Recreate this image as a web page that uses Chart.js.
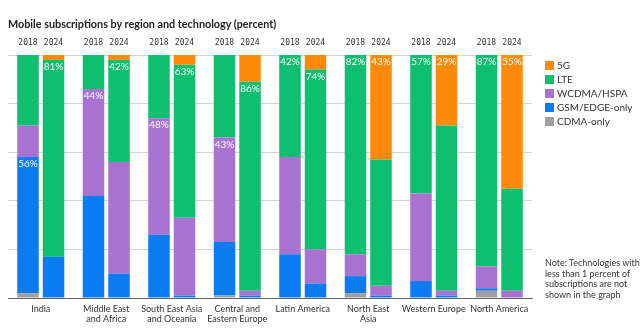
<!DOCTYPE html>
<html>
<head>
<meta charset="utf-8">
<script src="https://cdn.jsdelivr.net/npm/chart.js@4/dist/chart.umd.min.js"></script>
<style>
  body { margin: 0; background: #fff; }
  #wrap { position: relative; width: 640px; height: 332px; font-family: Lato, sans-serif; color: #333; }
  #title { position: absolute; left: 8px; top: 17px; font-size: 10.8px; font-weight: bold; color: #222; white-space: nowrap; }
  #legend { position: absolute; left: 545px; top: 59px; font-size: 10px; }
  #legend div { height: 13.9px; line-height: 13.9px; white-space: nowrap; }
  #legend span { display: inline-block; width: 9px; height: 9px; vertical-align: -1px; margin-right: 3px; }
  #note { position: absolute; left: 545px; top: 258px; font-size: 9px; line-height: 10.7px; white-space: nowrap; }
</style>
</head>
<body>
<div id="wrap">
  <canvas id="chart" width="640" height="332"></canvas>
  <div id="title">Mobile subscriptions by region and technology (percent)</div>
  <div id="legend"></div>
  <div id="note">Note: Technologies with<br>less than 1 percent of<br>subscriptions are not<br>shown in the graph</div>
</div>
<script>
const regions = [
  'India', ['Middle East', 'and Africa'], ['South East Asia', 'and Oceania'],
  ['Central and', 'Eastern Europe'], 'Latin America', ['North East', 'Asia'],
  'Western Europe', 'North America'
];
const years = ['2018', '2024'];

const cdma2018  = [2, 0, 0, 1, 0, 2, 0, 3];
const gsm2018   = [56, 42, 26, 22, 18, 7, 7, 1];
const wcdma2018 = [13, 44, 48, 43, 40, 9, 36, 9];
const lte2018   = [29, 14, 26, 34, 42, 82, 57, 87];
const fiveG2018 = [0, 0, 0, 0, 0, 0, 0, 0];

const cdma2024  = [0, 0, 0, 0, 0, 0, 0, 0];
const gsm2024   = [17, 10, 1, 1, 6, 1, 1, 0];
const wcdma2024 = [0, 46, 32, 2, 14, 4, 2, 3];
const lte2024   = [81, 42, 63, 86, 74, 52, 68, 42];
const fiveG2024 = [2, 2, 4, 11, 6, 43, 29, 55];

// which technology gets its share printed on each bar
const shown2018 = ['GSM/EDGE-only', 'WCDMA/HSPA', 'WCDMA/HSPA', 'WCDMA/HSPA', 'LTE', 'LTE', 'LTE', 'LTE'];
const shown2024 = ['LTE', 'LTE', 'LTE', 'LTE', 'LTE', '5G', '5G', '5G'];

const techs = [
  { name: 'CDMA-only',     color: '#a0a0a0', d2018: cdma2018,  d2024: cdma2024 },
  { name: 'GSM/EDGE-only', color: '#0a7bf0', d2018: gsm2018,   d2024: gsm2024 },
  { name: 'WCDMA/HSPA',    color: '#a872d0', d2018: wcdma2018, d2024: wcdma2024 },
  { name: 'LTE',           color: '#0dbf6f', d2018: lte2018,   d2024: lte2024 },
  { name: '5G',            color: '#ff8a0a', d2018: fiveG2018, d2024: fiveG2024 }
];

const datasets = [];
years.forEach(y => {
  techs.forEach(t => {
    datasets.push({
      label: t.name,
      stack: y,
      data: t['d' + y],
      backgroundColor: t.color,
      barPercentage: 0.843,
      categoryPercentage: 0.779
    });
  });
});

document.getElementById('legend').innerHTML = techs.slice().reverse()
  .map(t => `<div><span style="background:${t.color}"></span>${t.name}</div>`).join('');

const barText = {
  id: 'barText',
  afterDatasetsDraw(chart) {
    const ctx = chart.ctx;
    ctx.save();
    ctx.textAlign = 'center';
    ctx.textBaseline = 'middle';
    chart.data.datasets.forEach((ds, i) => {
      const meta = chart.getDatasetMeta(i);
      const shown = ds.stack === '2018' ? shown2018 : shown2024;
      meta.data.forEach((bar, j) => {
        // year above each column (only once per stack)
        if (ds.label === 'CDMA-only') {
          ctx.fillStyle = '#333';
          ctx.font = '8px "DejaVu Sans Mono", monospace';
          ctx.fillText(ds.stack, bar.x, 43);
        }
        if (shown[j] === ds.label) {
          ctx.fillStyle = '#fff';
          ctx.font = '10px Lato, sans-serif';
          ctx.fillText(ds.data[j] + '%', bar.x, bar.y + 7);
        }
      });
    });
    ctx.restore();
  }
};

new Chart(document.getElementById('chart'), {
  type: 'bar',
  data: { labels: regions, datasets: datasets },
  options: {
    responsive: false,
    animation: false,
    devicePixelRatio: 1,
    layout: { padding: { left: 8, right: 108, top: 55, bottom: 0 } },
    plugins: { legend: { display: false }, tooltip: { enabled: false } },
    scales: {
      x: {
        stacked: true,
        grid: { display: false, drawTicks: false },
        border: { color: '#666', width: 1 },
        ticks: {
          color: '#333',
          font: { family: 'Lato', size: 9, lineHeight: 1.12 },
          padding: 6,
          maxRotation: 0,
          autoSkip: false
        },
        afterFit: s => { s.height = 34; }
      },
      y: {
        stacked: true,
        min: 0,
        max: 100,
        ticks: { display: false, stepSize: 20 },
        grid: { color: '#d4d4d4', drawTicks: false },
        border: { display: false },
        afterFit: s => { s.width = 0; }
      }
    }
  },
  plugins: [barText]
});
</script>
</body>
</html>
